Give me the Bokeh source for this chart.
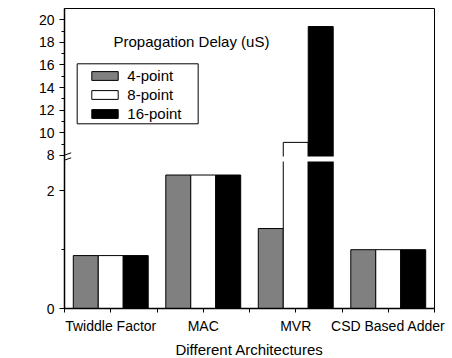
import math
from bokeh.plotting import figure
from bokeh.models import (FixedTicker, Label, BoxAnnotation, Arrow, Legend,
                          LegendItem, Range1d, ColumnDataSource)
from bokeh.embed import file_html
from bokeh.resources import INLINE

# ---- data ----
categories = ["Twiddle Factor", "MAC", "MVR", "CSD Based Adder"]
series_names = ["4-point", "8-point", "16-point"]
delay_4 = [0.9, 2.27, 1.36, 1.0]
delay_8 = [0.9, 2.27, 9.15, 1.0]
delay_16 = [0.9, 2.27, 19.4, 1.0]
lower_ticks = [0, 2]
lower_minor = [1]
upper_ticks = [8, 10, 12, 14, 16, 18, 20]
upper_minor = [9, 11, 13, 15, 17, 19]

# ---- broken-axis mapping (value -> display units in pixels) ----
LOW_MAX = 2.5
LOW_PX = 58.8
UP_MIN = 7.9
UP_BASE = 152.0
UP_PX = 11.3


def to_disp(v):
    if v <= LOW_MAX:
        return v * LOW_PX
    return UP_BASE + (v - UP_MIN) * UP_PX


FONT = "Liberation Sans"
BAR_W = 0.27
colors = ["#808080", "#ffffff", "#000000"]

p = figure(frame_width=370, frame_height=300, x_range=Range1d(0.5, 4.5), y_range=Range1d(0, 300),
           output_backend="svg", toolbar_location=None,
           min_border_left=64, min_border_right=18, min_border_top=8, min_border_bottom=50)
p.grid.visible = False
p.outline_line_color = "black"
p.outline_line_width = 1
p.background_fill_color = "white"
p.border_fill_color = "white"

renderers = []
for k, vals in enumerate([delay_4, delay_8, delay_16]):
    src = ColumnDataSource(dict(
        x=[i + 1 + (k - 1) * BAR_W for i in range(len(categories))],
        top=[to_disp(v) for v in vals],
    ))
    r = p.vbar(x="x", top="top", bottom=0, width=BAR_W, source=src,
               fill_color=colors[k], line_color="black", line_width=1)
    renderers.append(r)

# white gap across bars that cross the break
for i in range(len(categories)):
    if max(delay_4[i], delay_8[i], delay_16[i]) > LOW_MAX:
        p.quad(left=[i + 1 - 1.5 * BAR_W - 0.01], right=[i + 1 + 1.5 * BAR_W + 0.01],
               bottom=[to_disp(LOW_MAX)], top=[UP_BASE],
               fill_color="white", line_color=None)

# ---- axes ----
p.xaxis.ticker = FixedTicker(ticks=[i + 1 for i in range(len(categories))],
                             minor_ticks=[i + 0.5 for i in range(len(categories) + 1)])
p.xaxis.major_label_overrides = {i + 1: c for i, c in enumerate(categories)}
p.xaxis.axis_label = "Different Architectures"
p.xaxis.axis_label_text_font = FONT
p.xaxis.axis_label_text_font_size = "15px"
p.xaxis.axis_label_text_font_style = "normal"
p.xaxis.axis_label_standoff = 4
p.xaxis.major_label_standoff = 5

y_major = [to_disp(v) for v in lower_ticks + upper_ticks]
y_minor = [to_disp(v) for v in lower_minor + upper_minor]
p.yaxis.ticker = FixedTicker(ticks=y_major, minor_ticks=y_minor)
p.yaxis.major_label_overrides = {to_disp(v): str(v) for v in lower_ticks + upper_ticks}
p.yaxis.major_label_standoff = 5

for ax in [p.xaxis[0], p.yaxis[0]]:
    ax.axis_line_color = "black"
    ax.axis_line_width = 1.5
    ax.major_tick_line_color = "black"
    ax.minor_tick_line_color = "black"
    ax.major_tick_in = 0
    ax.minor_tick_in = 0
    ax.major_label_text_font = FONT
    ax.major_label_text_font_size = "14px"
    ax.major_label_text_color = "black"
    ax.axis_label_text_color = "black"
p.xaxis.major_tick_out = 4
p.xaxis.minor_tick_out = 4
p.yaxis.major_tick_out = 5
p.yaxis.minor_tick_out = 3

# y-axis title
p.add_layout(Label(x=0.046, y=139, text="Delay (uS)", angle=math.pi / 2,
                   text_align="center", text_baseline="middle",
                   text_font=FONT, text_font_size="15px", text_color="black"))

# chart title inside plot
p.add_layout(Label(x=1.03, y=267, text="Propagation Delay (uS)",
                   text_align="left", text_baseline="middle",
                   text_font=FONT, text_font_size="15px", text_color="black"))

# axis break marks
for y0 in [146.3, 151.3]:
    p.add_layout(Arrow(end=None, x_start=0.438, y_start=y0, x_end=0.572, y_end=y0 + 4.4,
                       line_color="black", line_width=1))

# legend
legend = Legend(items=[LegendItem(label=n, renderers=[r]) for n, r in zip(series_names, renderers)],
                location=(24.3, 186.2), padding=0, margin=0, spacing=2,
                label_height=17, glyph_height=11, glyph_width=33, label_standoff=6,
                border_line_color=None, background_fill_alpha=0,
                label_text_font=FONT, label_text_font_size="15px", label_text_color="black")
p.add_layout(legend)
p.add_layout(BoxAnnotation(left=0.637, right=1.945, bottom=184.7, top=244.7,
                           fill_alpha=0, line_color="black", line_width=1, line_alpha=1))

open("out.html", "w").write(file_html(p, INLINE))
